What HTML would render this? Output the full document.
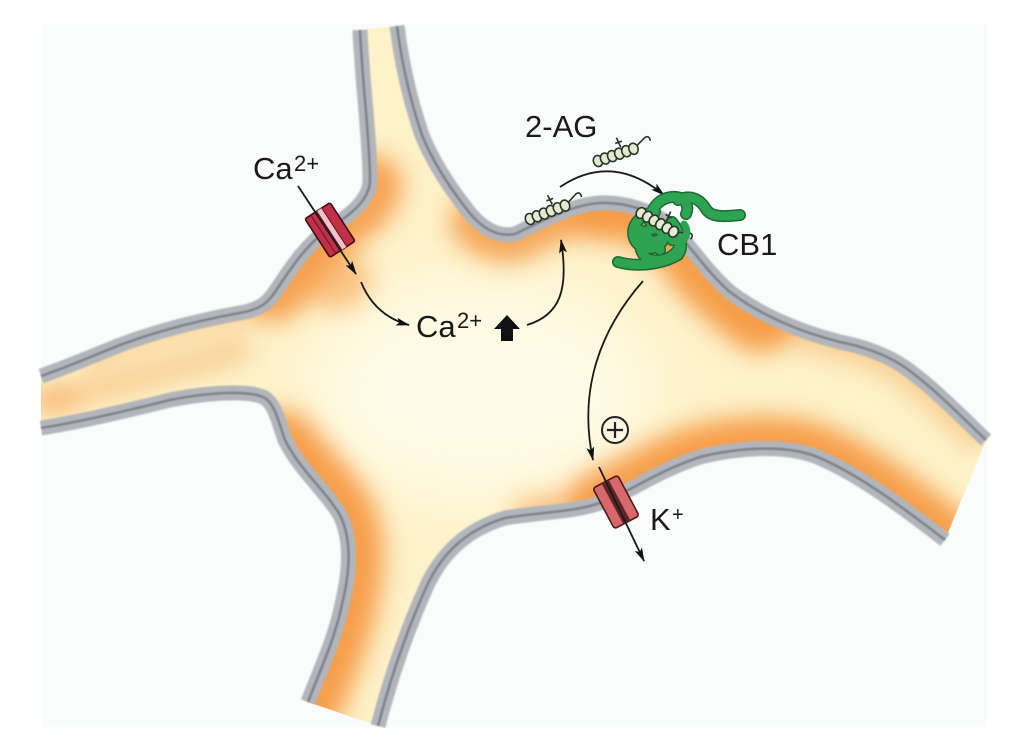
<!DOCTYPE html>
<html><head><meta charset="utf-8"><style>
html,body{margin:0;padding:0;background:#fff;}
svg{display:block;}
text{font-family:"Liberation Sans",Arial,sans-serif;fill:#1a1a1a;}
</style></head><body>
<svg width="1021" height="749" viewBox="0 0 1021 749" xmlns="http://www.w3.org/2000/svg">
<defs>
<clipPath id="cell"><path d="M 360 30 C 362 80, 370 140, 370 180 C 370 200, 350 215, 330 228 C 305 245, 290 270, 275 292 C 268 302, 262 308, 245 312 C 200 320, 160 330, 120 345 C 90 357, 65 368, 41 376 L 41 428 C 80 422, 130 410, 170 400 C 210 392, 250 390, 265 398 C 275 405, 278 420, 285 440 C 300 470, 325 490, 340 515 C 352 540, 350 570, 343 600 C 335 640, 320 670, 308 702 L 378 726 C 390 680, 405 635, 425 590 C 440 555, 465 530, 505 518 C 540 512, 575 512, 600 503 C 630 492, 655 472, 700 457 C 740 447, 785 445, 815 456 C 855 472, 900 505, 945 540 L 986 440 C 960 415, 935 390, 915 375 C 895 358, 870 348, 840 342 C 800 332, 760 315, 730 292 C 705 270, 690 245, 670 225 C 650 210, 625 202, 600 203 C 570 205, 540 222, 515 234 C 495 238, 478 225, 465 207 C 448 185, 432 160, 422 135 C 410 100, 402 65, 397 26 Z"/></clipPath>
<filter id="blur" x="-50%" y="-50%" width="200%" height="200%"><feGaussianBlur stdDeviation="12"/></filter>
<filter id="blur2" x="-50%" y="-50%" width="200%" height="200%"><feGaussianBlur stdDeviation="30"/></filter>
<filter id="soft" x="-10%" y="-10%" width="120%" height="120%"><feGaussianBlur stdDeviation="0.7"/></filter>
<marker id="ah" viewBox="0 0 14 8" refX="13" refY="4" markerWidth="14" markerHeight="8" markerUnits="userSpaceOnUse" orient="auto"><path d="M0,0 L14,4 L0,8 L3,4 Z" fill="#111"/></marker>
<g id="mol">
  <ellipse cx="0" cy="0" rx="4.6" ry="5.6"/>
  <ellipse cx="7.5" cy="0" rx="4.6" ry="5.6"/>
  <ellipse cx="15" cy="0" rx="4.6" ry="5.6"/>
  <ellipse cx="22.5" cy="0" rx="4.6" ry="5.6"/>
  <ellipse cx="30" cy="0" rx="4.6" ry="5.6"/>
  <ellipse cx="37.5" cy="0" rx="4.6" ry="5.6"/>
  <path d="M26 -5.5 L25 -16 M22 -11 L29 -11 M42 -2 L52 -7 Q 57 -8 56 -2" fill="none"/>
</g>
</defs>
<rect width="1021" height="749" fill="#fff"/>
<rect x="41" y="24" width="946" height="703" fill="#fafbfb"/>

<g clip-path="url(#cell)">
  <rect x="0" y="0" width="1021" height="749" fill="#fdf2c9"/>
  <ellipse cx="480" cy="390" rx="170" ry="110" fill="#fffbe6" filter="url(#blur2)"/>
  <g filter="url(#blur)" fill="none" stroke="#f59a45" stroke-linecap="round">
    <path d="M 372 185 C 370 200, 350 215, 330 228 C 305 245, 290 270, 275 292" stroke-width="60" opacity="0.9"/>
    <ellipse cx="335" cy="280" rx="35" ry="30" fill="#f59a45" stroke="none" opacity="0.55"/>
    <path d="M 270 300 C 262 308, 245 312, 200 320 C 160 330, 120 345, 90 357" stroke-width="26" opacity="0.35"/>
    <path d="M 41 402 C 100 390, 170 370, 240 350" stroke-width="22" opacity="0.45"/>
    <ellipse cx="55" cy="400" rx="26" ry="12" fill="#f59a45" stroke="none" opacity="0.5"/>
    <path d="M 282 445 C 300 470, 325 490, 340 515 C 352 540, 350 570, 343 600 C 335 640, 320 670, 308 702" stroke-width="70" opacity="0.95"/>
    <path d="M 530 515 C 560 512, 580 510, 600 503" stroke-width="36" opacity="0.55"/>
    <path d="M 600 503 C 630 492, 655 472, 700 457 C 740 447, 785 445, 815 456 C 855 472, 900 505, 945 540" stroke-width="64" opacity="0.95"/>
    <path d="M 975 430 C 960 415, 935 390, 915 375 C 895 358, 870 348, 840 342 C 800 332, 760 315, 730 292" stroke-width="36" opacity="0.4"/>
    <path d="M 760 315 C 730 292, 705 270, 690 245 C 680 232, 670 225, 650 212 C 640 206, 620 202, 600 203" stroke-width="75" opacity="0.95"/>
    <path d="M 600 203 C 570 205, 540 222, 515 234 C 500 237, 488 232, 478 222" stroke-width="55" opacity="0.85"/>
  </g>
</g>

<!-- membranes -->
<g fill="none" filter="url(#soft)">
  <g stroke="#b2b6bb" stroke-width="15">
    <path d="M 360 30 C 362 80, 370 140, 370 180 C 370 200, 350 215, 330 228 C 305 245, 290 270, 275 292 C 268 302, 262 308, 245 312 C 200 320, 160 330, 120 345 C 90 357, 65 368, 41 376"/>
    <path d="M 41 428 C 80 422, 130 410, 170 400 C 210 392, 250 390, 265 398 C 275 405, 278 420, 285 440 C 300 470, 325 490, 340 515 C 352 540, 350 570, 343 600 C 335 640, 320 670, 308 702"/>
    <path d="M 378 726 C 390 680, 405 635, 425 590 C 440 555, 465 530, 505 518 C 540 512, 575 512, 600 503 C 630 492, 655 472, 700 457 C 740 447, 785 445, 815 456 C 855 472, 900 505, 945 540"/>
    <path d="M 986 440 C 960 415, 935 390, 915 375 C 895 358, 870 348, 840 342 C 800 332, 760 315, 730 292 C 705 270, 690 245, 670 225 C 650 210, 625 202, 600 203 C 570 205, 540 222, 515 234 C 495 238, 478 225, 465 207 C 448 185, 432 160, 422 135 C 410 100, 402 65, 397 26"/>
  </g>
  <g stroke="#7a818a" stroke-width="2.6">
    <path d="M 360 30 C 362 80, 370 140, 370 180 C 370 200, 350 215, 330 228 C 305 245, 290 270, 275 292 C 268 302, 262 308, 245 312 C 200 320, 160 330, 120 345 C 90 357, 65 368, 41 376"/>
    <path d="M 41 428 C 80 422, 130 410, 170 400 C 210 392, 250 390, 265 398 C 275 405, 278 420, 285 440 C 300 470, 325 490, 340 515 C 352 540, 350 570, 343 600 C 335 640, 320 670, 308 702"/>
    <path d="M 378 726 C 390 680, 405 635, 425 590 C 440 555, 465 530, 505 518 C 540 512, 575 512, 600 503 C 630 492, 655 472, 700 457 C 740 447, 785 445, 815 456 C 855 472, 900 505, 945 540"/>
    <path d="M 986 440 C 960 415, 935 390, 915 375 C 895 358, 870 348, 840 342 C 800 332, 760 315, 730 292 C 705 270, 690 245, 670 225 C 650 210, 625 202, 600 203 C 570 205, 540 222, 515 234 C 495 238, 478 225, 465 207 C 448 185, 432 160, 422 135 C 410 100, 402 65, 397 26"/>
  </g>
</g>

<!-- Ca channel -->
<g transform="translate(330,230) rotate(-33)">
  <rect x="-15" y="-23" width="30" height="46" rx="2" fill="#c22f48" stroke="#3a1016" stroke-width="1.6"/>
  <rect x="-1" y="-23" width="6" height="46" fill="#f2c4ca"/>
  <path d="M-1,-23 V23 M5,-23 V23 M-8,-23 V23" stroke="#5a1a22" stroke-width="1"/>
</g>

<!-- K channel -->
<g transform="translate(616,502) rotate(-28)">
  <rect x="-14" y="-23" width="28" height="46" rx="3" fill="#d9686c" stroke="#4a1a1a" stroke-width="1.6"/>
  <rect x="-4" y="-23" width="8" height="46" fill="#5c2626"/>
</g>

<!-- arrows -->
<g fill="none" stroke="#1a1a1a" stroke-width="1.8">
  <path d="M 298 186 L 356 274" marker-end="url(#ah)"/>
  <path d="M 361 282 Q 375 316 409 325" marker-end="url(#ah)"/>
  <path d="M 527 325 C 560 315, 569 290, 561 240" marker-end="url(#ah)"/>
  <path d="M 560 187 Q 612 152 664 195" marker-end="url(#ah)"/>
  <path d="M 643 281 C 600 330, 578 390, 593 460" marker-end="url(#ah)"/>
  <path d="M 599 467 L 644 561" marker-end="url(#ah)"/>
</g>

<!-- thick up arrow -->
<path d="M507,315 L520,329 L513,329 L513,341 L501,341 L501,329 L494,329 Z" fill="#111"/>

<!-- plus circle -->
<circle cx="615" cy="430" r="13" fill="#fdf6e2" stroke="#222" stroke-width="2"/>
<path d="M607,430 H623 M615,422 V438" stroke="#222" stroke-width="2.2"/>

<!-- CB1 receptor -->
<g fill="none" stroke-linecap="round" stroke-linejoin="round">
  <g stroke="#1b6a33" stroke-width="12">
    <path d="M 655 212 C 640 214, 630 226, 634 238 C 638 250, 655 252, 662 242 C 668 232, 656 224, 646 232 C 636 242, 640 258, 652 260 C 664 262, 676 256, 680 246 C 684 236, 676 228, 668 232"/>
    <path d="M 618 262 C 635 267, 660 265, 676 256 C 684 250, 682 240, 672 240"/>
    <path d="M 650 222 C 650 208, 660 198, 672 197 C 684 196, 690 205, 686 214"/>
    <path d="M 678 200 C 690 194, 700 199, 706 209 C 711 217, 722 217, 740 215"/>
    <path d="M 672 222 C 680 232, 684 245, 678 255 M 640 230 L 660 250 M 648 244 L 668 236"/>
  </g>
  <g stroke="#2ea352" stroke-width="9">
    <path d="M 655 212 C 640 214, 630 226, 634 238 C 638 250, 655 252, 662 242 C 668 232, 656 224, 646 232 C 636 242, 640 258, 652 260 C 664 262, 676 256, 680 246 C 684 236, 676 228, 668 232"/>
    <path d="M 618 262 C 635 267, 660 265, 676 256 C 684 250, 682 240, 672 240"/>
    <path d="M 650 222 C 650 208, 660 198, 672 197 C 684 196, 690 205, 686 214"/>
    <path d="M 678 200 C 690 194, 700 199, 706 209 C 711 217, 722 217, 740 215"/>
    <path d="M 672 222 C 680 232, 684 245, 678 255 M 640 230 L 660 250 M 648 244 L 668 236"/>
  </g>
</g>

<!-- 2-AG molecules -->
<g fill="#e2ead2" stroke="#2b3326" stroke-width="1.6">
  <use href="#mol" transform="translate(598,161) rotate(-19)"/>
  <use href="#mol" transform="translate(530,219) rotate(-21)"/>
  <use href="#mol" transform="translate(641,213) rotate(30)"/>
</g>
<path d="M 684 224 C 689 230, 687 238, 681 243" fill="none" stroke="#2ea352" stroke-width="7" stroke-linecap="round"/>

<!-- labels -->
<text x="253" y="179" font-size="31">Ca</text>
<text x="294" y="171" font-size="22">2+</text>
<text x="416" y="337" font-size="31">Ca</text>
<text x="457" y="328" font-size="22">2+</text>
<text x="525" y="137" font-size="31">2-AG</text>
<text x="717" y="255" font-size="31">CB1</text>
<text x="650" y="530" font-size="31">K</text>
<text x="672" y="521" font-size="20">+</text>
</svg>
</body></html>
